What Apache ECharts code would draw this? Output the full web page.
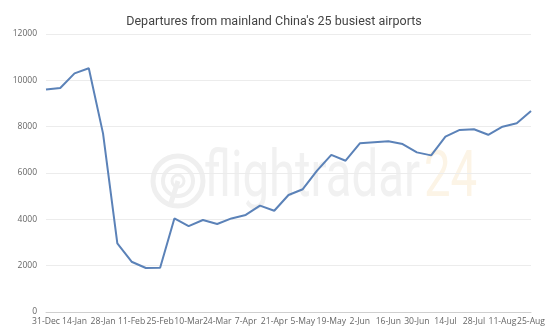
<!DOCTYPE html>
<html>
<head>
<meta charset="utf-8">
<script src="https://cdn.jsdelivr.net/npm/echarts@6/dist/echarts.min.js"></script>
<style>
  html, body { margin: 0; padding: 0; background: #fff; }
  #chart { width: 548px; height: 327px; }
</style>
</head>
<body>
<div id="chart"></div>
<script>
// Weekly departures, week starting on each date
const weeks = [
  '31-Dec', '7-Jan', '14-Jan', '21-Jan', '28-Jan', '4-Feb', '11-Feb', '18-Feb',
  '25-Feb', '3-Mar', '10-Mar', '17-Mar', '24-Mar', '31-Mar', '7-Apr', '14-Apr',
  '21-Apr', '28-Apr', '5-May', '12-May', '19-May', '26-May', '2-Jun', '9-Jun',
  '16-Jun', '23-Jun', '30-Jun', '7-Jul', '14-Jul', '21-Jul', '28-Jul', '4-Aug',
  '11-Aug', '18-Aug', '25-Aug'
];
const departures = [
  9600, 9670, 10300, 10520, 7700, 2960, 2170, 1900,
  1910, 4040, 3710, 3970, 3800, 4040, 4190, 4590,
  4370, 5050, 5300, 6100, 6780, 6530, 7280, 7330,
  7370, 7250, 6890, 6760, 7570, 7860, 7890, 7650,
  8000, 8150, 8680
];
const yTicks = { min: 0, max: 12000, interval: 2000 };

const chart = echarts.init(document.getElementById('chart'), null, { renderer: 'canvas' });

chart.setOption({
  backgroundColor: '#ffffff',
  animation: false,
  title: {
    text: "Departures from mainland China's 25 busiest airports",
    left: 'center',
    top: 10,
    textStyle: { fontFamily: 'Roboto', fontSize: 12.5, fontWeight: 'normal', color: '#444' }
  },
  grid: { left: 46, right: 14, top: 34, bottom: 15, containLabel: false },
  graphic: [
    // faint brand watermark behind the plot
    {
      type: 'group', z: -1, silent: true,
      children: [
        { type: 'circle', shape: { cx: 178, cy: 181, r: 25 }, style: { fill: 'none', stroke: '#efefef', lineWidth: 5 } },
        { type: 'circle', shape: { cx: 178, cy: 181, r: 15 }, style: { fill: 'none', stroke: '#efefef', lineWidth: 4 } },
        { type: 'circle', shape: { cx: 178, cy: 181, r: 6 }, style: { fill: 'none', stroke: '#efefef', lineWidth: 3 } },
        { type: 'line', shape: { x1: 178, y1: 181, x2: 170, y2: 206 }, style: { stroke: '#efefef', lineWidth: 5 } },
        {
          type: 'text', x: 204, y: 180, scaleX: 0.74,
          style: {
            text: 'flightradar', fontFamily: 'Roboto', fontWeight: 'normal', fontSize: 64,
            fill: '#f1f1f1', textVerticalAlign: 'middle'
          }
        },
        {
          type: 'text', x: 424, y: 180, scaleX: 0.74,
          style: {
            text: '24', fontFamily: 'Roboto', fontWeight: 'normal', fontSize: 64,
            fill: '#fcf4e6', textVerticalAlign: 'middle'
          }
        }
      ]
    }
  ],
  xAxis: {
    type: 'category',
    data: weeks,
    boundaryGap: false,
    axisLine: { show: true, lineStyle: { color: '#cfcfcf', width: 1 } },
    axisTick: { show: false },
    axisLabel: {
      interval: 1, margin: 5, color: '#666', fontFamily: 'Open Sans', fontSize: 8.6,
      showMinLabel: true, showMaxLabel: true, hideOverlap: false
    },
    splitLine: { show: false }
  },
  yAxis: {
    type: 'value',
    min: yTicks.min, max: yTicks.max, interval: yTicks.interval,
    axisLine: { show: false },
    axisTick: { show: false },
    axisLabel: {
      margin: 9, color: '#666', fontFamily: 'Open Sans', fontSize: 8.5,
      formatter: (v) => String(v)
    },
    splitLine: { lineStyle: { color: '#ececec', width: 1 } }
  },
  series: [{
    type: 'line',
    data: departures,
    symbol: 'none',
    lineStyle: { color: '#5b82b8', width: 2 },
    z: 3
  }]
});
</script>
</body>
</html>
